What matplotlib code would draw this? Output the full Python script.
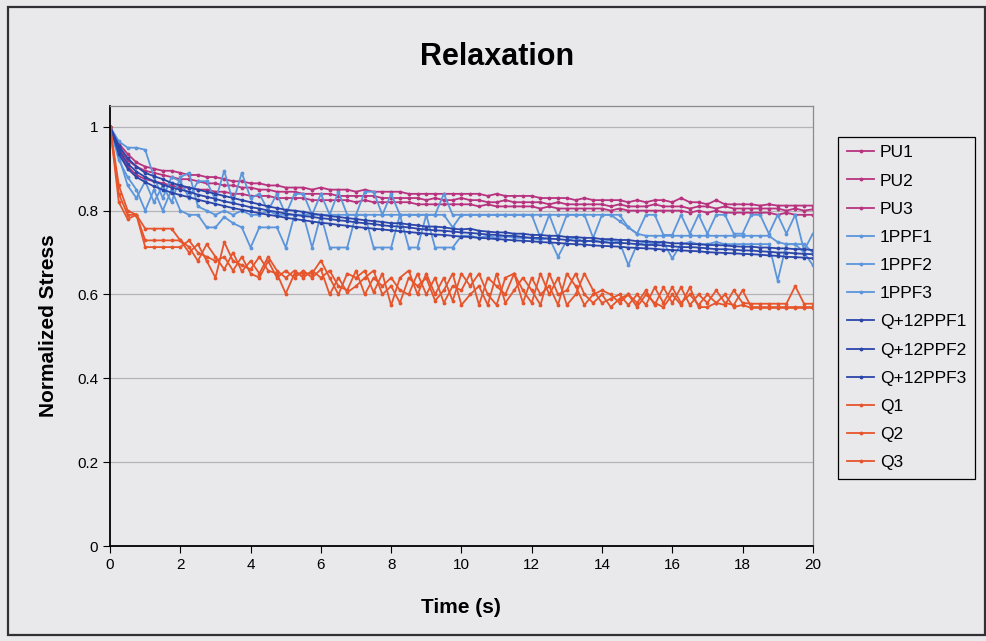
import matplotlib
matplotlib.use("Agg")
import matplotlib.pyplot as plt
from matplotlib.patches import Rectangle

plt.rcParams['font.family'] = ['Liberation Sans', 'DejaVu Sans']

# time axis, one reading every 0.25 s
t = [i * 0.25 for i in range(81)]

# normalized stress (4 readings per second, then t=20)
pu1 = [1.000, 0.960, 0.935, 0.915,  0.905, 0.900, 0.895, 0.895,  0.890, 0.885, 0.885, 0.880,
       0.880, 0.875, 0.870, 0.870,  0.865, 0.865, 0.860, 0.860,  0.855, 0.855, 0.855, 0.850,
       0.855, 0.850, 0.850, 0.850,  0.845, 0.850, 0.845, 0.845,  0.845, 0.845, 0.840, 0.840,
       0.840, 0.840, 0.840, 0.840,  0.840, 0.840, 0.840, 0.835,  0.840, 0.835, 0.835, 0.835,
       0.835, 0.830, 0.830, 0.830,  0.830, 0.825, 0.830, 0.825,  0.825, 0.825, 0.825, 0.820,
       0.825, 0.820, 0.825, 0.825,  0.820, 0.830, 0.820, 0.820,  0.815, 0.825, 0.815, 0.815,
       0.815, 0.815, 0.812, 0.815,  0.812, 0.812, 0.812, 0.812,  0.812]
pu2 = [1.000, 0.950, 0.920, 0.905,  0.895, 0.890, 0.885, 0.880,  0.875, 0.875, 0.870, 0.865,
       0.865, 0.860, 0.860, 0.855,  0.855, 0.850, 0.850, 0.845,  0.845, 0.845, 0.840, 0.840,
       0.840, 0.840, 0.835, 0.835,  0.835, 0.835, 0.835, 0.830,  0.830, 0.830, 0.830, 0.830,
       0.825, 0.830, 0.825, 0.825,  0.830, 0.825, 0.825, 0.820,  0.820, 0.825, 0.820, 0.820,
       0.820, 0.820, 0.815, 0.820,  0.815, 0.815, 0.815, 0.815,  0.815, 0.810, 0.815, 0.810,
       0.810, 0.810, 0.815, 0.810,  0.810, 0.810, 0.805, 0.810,  0.810, 0.805, 0.810, 0.805,
       0.805, 0.805, 0.805, 0.805,  0.805, 0.800, 0.805, 0.800,  0.803]
pu3 = [1.000, 0.940, 0.905, 0.885,  0.875, 0.870, 0.865, 0.860,  0.855, 0.855, 0.850, 0.850,
       0.845, 0.845, 0.840, 0.840,  0.835, 0.835, 0.835, 0.830,  0.830, 0.830, 0.830, 0.825,
       0.825, 0.825, 0.825, 0.825,  0.820, 0.825, 0.820, 0.820,  0.820, 0.820, 0.820, 0.815,
       0.815, 0.815, 0.815, 0.815,  0.815, 0.815, 0.810, 0.815,  0.810, 0.810, 0.810, 0.810,
       0.810, 0.805, 0.810, 0.805,  0.805, 0.805, 0.805, 0.805,  0.805, 0.800, 0.805, 0.800,
       0.800, 0.800, 0.800, 0.800,  0.800, 0.800, 0.795, 0.800,  0.795, 0.800, 0.795, 0.795,
       0.795, 0.795, 0.795, 0.795,  0.790, 0.795, 0.790, 0.790,  0.790]

ppf1 = [1.000, 0.965, 0.950, 0.950,  0.945, 0.880, 0.830, 0.880,  0.870, 0.830, 0.870, 0.870,
        0.825, 0.895, 0.820, 0.890,  0.830, 0.840, 0.800, 0.840,  0.790, 0.840, 0.840, 0.790,
        0.840, 0.790, 0.845, 0.790,  0.790, 0.845, 0.845, 0.790,  0.840, 0.790, 0.790, 0.790,
        0.790, 0.790, 0.840, 0.790,  0.790, 0.790, 0.790, 0.790,  0.790, 0.790, 0.790, 0.790,
        0.790, 0.735, 0.790, 0.735,  0.790, 0.790, 0.790, 0.735,  0.790, 0.790, 0.790, 0.760,
        0.745, 0.790, 0.790, 0.742,  0.742, 0.790, 0.745, 0.790,  0.745, 0.790, 0.790, 0.745,
        0.745, 0.790, 0.790, 0.745,  0.790, 0.745, 0.790, 0.705,  0.745]
ppf2 = [1.000, 0.930, 0.860, 0.830,  0.870, 0.820, 0.860, 0.820,  0.880, 0.890, 0.810, 0.800,
        0.790, 0.800, 0.790, 0.800,  0.790, 0.790, 0.800, 0.790,  0.790, 0.790, 0.790, 0.790,
        0.790, 0.790, 0.790, 0.790,  0.790, 0.790, 0.790, 0.790,  0.790, 0.790, 0.790, 0.790,
        0.790, 0.790, 0.790, 0.760,  0.790, 0.790, 0.790, 0.790,  0.790, 0.790, 0.790, 0.790,
        0.790, 0.790, 0.790, 0.790,  0.790, 0.790, 0.790, 0.790,  0.790, 0.790, 0.775, 0.760,
        0.745, 0.740, 0.740, 0.740,  0.740, 0.740, 0.740, 0.740,  0.740, 0.740, 0.740, 0.740,
        0.740, 0.740, 0.740, 0.740,  0.725, 0.720, 0.720, 0.720,  0.700]
ppf3 = [1.000, 0.920, 0.880, 0.850,  0.800, 0.850, 0.800, 0.850,  0.800, 0.790, 0.790, 0.760,
        0.760, 0.785, 0.770, 0.760,  0.712, 0.760, 0.760, 0.760,  0.712, 0.790, 0.790, 0.712,
        0.790, 0.712, 0.712, 0.712,  0.790, 0.790, 0.712, 0.712,  0.712, 0.790, 0.712, 0.712,
        0.790, 0.712, 0.712, 0.712,  0.740, 0.740, 0.735, 0.740,  0.735, 0.740, 0.735, 0.735,
        0.735, 0.730, 0.735, 0.690,  0.730, 0.735, 0.725, 0.730,  0.725, 0.730, 0.725, 0.670,
        0.720, 0.725, 0.720, 0.725,  0.686, 0.720, 0.725, 0.720,  0.720, 0.725, 0.720, 0.720,
        0.720, 0.720, 0.720, 0.720,  0.633, 0.720, 0.720, 0.700,  0.670]

qp1 = [1.000, 0.955, 0.925, 0.905,  0.890, 0.882, 0.875, 0.866,  0.860, 0.855, 0.850, 0.845,
       0.840, 0.835, 0.830, 0.825,  0.820, 0.815, 0.810, 0.806,  0.802, 0.800, 0.797, 0.793,
       0.790, 0.787, 0.785, 0.782,  0.780, 0.777, 0.775, 0.773,  0.770, 0.770, 0.767, 0.765,
       0.762, 0.762, 0.760, 0.757,  0.755, 0.757, 0.752, 0.750,  0.748, 0.748, 0.745, 0.745,
       0.742, 0.742, 0.740, 0.740,  0.737, 0.737, 0.735, 0.735,  0.732, 0.732, 0.730, 0.730,
       0.727, 0.727, 0.725, 0.725,  0.722, 0.722, 0.720, 0.720,  0.718, 0.718, 0.717, 0.715,
       0.714, 0.714, 0.712, 0.712,  0.710, 0.710, 0.708, 0.708,  0.706]
qp2 = [1.000, 0.945, 0.912, 0.893,  0.880, 0.870, 0.862, 0.855,  0.850, 0.845, 0.838, 0.833,
       0.828, 0.822, 0.818, 0.813,  0.808, 0.805, 0.800, 0.797,  0.793, 0.790, 0.787, 0.785,
       0.782, 0.780, 0.777, 0.775,  0.772, 0.770, 0.768, 0.765,  0.763, 0.762, 0.760, 0.757,
       0.755, 0.753, 0.752, 0.750,  0.748, 0.747, 0.745, 0.743,  0.742, 0.740, 0.740, 0.737,
       0.735, 0.735, 0.733, 0.732,  0.730, 0.728, 0.728, 0.727,  0.725, 0.723, 0.723, 0.722,
       0.720, 0.718, 0.718, 0.717,  0.715, 0.713, 0.713, 0.712,  0.710, 0.708, 0.708, 0.707,
       0.705, 0.705, 0.703, 0.702,  0.700, 0.700, 0.698, 0.697,  0.696]
qp3 = [1.000, 0.935, 0.900, 0.880,  0.868, 0.858, 0.850, 0.843,  0.837, 0.832, 0.826, 0.821,
       0.816, 0.811, 0.806, 0.802,  0.798, 0.794, 0.790, 0.787,  0.783, 0.780, 0.777, 0.774,
       0.771, 0.769, 0.766, 0.764,  0.761, 0.759, 0.757, 0.755,  0.753, 0.751, 0.749, 0.747,
       0.745, 0.743, 0.742, 0.740,  0.738, 0.737, 0.735, 0.734,  0.732, 0.731, 0.729, 0.728,
       0.727, 0.725, 0.724, 0.723,  0.721, 0.720, 0.719, 0.717,  0.716, 0.715, 0.714, 0.712,
       0.711, 0.710, 0.709, 0.707,  0.706, 0.705, 0.704, 0.703,  0.701, 0.700, 0.699, 0.698,
       0.697, 0.696, 0.695, 0.693,  0.692, 0.690, 0.689, 0.688,  0.686]

q1 = [1.000, 0.860, 0.800, 0.790,  0.757, 0.757, 0.757, 0.757,  0.729, 0.700, 0.720, 0.680,
      0.640, 0.725, 0.680, 0.670,  0.660, 0.690, 0.657, 0.650,  0.602, 0.650, 0.650, 0.650,
      0.681, 0.640, 0.600, 0.650,  0.640, 0.657, 0.605, 0.650,  0.574, 0.640, 0.657, 0.600,
      0.650, 0.600, 0.640, 0.585,  0.650, 0.620, 0.650, 0.600,  0.575, 0.640, 0.650, 0.610,
      0.580, 0.650, 0.600, 0.640,  0.575, 0.600, 0.650, 0.610,  0.580, 0.590, 0.600, 0.575,
      0.600, 0.575, 0.617, 0.580,  0.617, 0.580, 0.600, 0.575,  0.600, 0.580, 0.575, 0.610,
      0.580, 0.578, 0.578, 0.578,  0.578, 0.578, 0.620, 0.578,  0.578]
q2 = [1.000, 0.840, 0.790, 0.790,  0.729, 0.729, 0.729, 0.729,  0.729, 0.713, 0.680, 0.720,
      0.690, 0.660, 0.700, 0.655,  0.680, 0.650, 0.690, 0.657,  0.640, 0.657, 0.640, 0.657,
      0.640, 0.657, 0.620, 0.610,  0.657, 0.600, 0.640, 0.620,  0.640, 0.610, 0.600, 0.650,
      0.600, 0.640, 0.580, 0.620,  0.610, 0.650, 0.575, 0.640,  0.620, 0.600, 0.650, 0.580,
      0.640, 0.600, 0.620, 0.575,  0.650, 0.620, 0.575, 0.600,  0.610, 0.600, 0.580, 0.600,
      0.580, 0.610, 0.575, 0.617,  0.580, 0.617, 0.575, 0.600,  0.580, 0.610, 0.580, 0.575,
      0.610, 0.570, 0.570, 0.570,  0.570, 0.570, 0.570, 0.570,  0.570]
q3 = [1.000, 0.820, 0.780, 0.790,  0.713, 0.713, 0.713, 0.713,  0.713, 0.729, 0.700, 0.690,
      0.680, 0.690, 0.657, 0.690,  0.650, 0.640, 0.680, 0.640,  0.657, 0.640, 0.657, 0.640,
      0.660, 0.600, 0.640, 0.605,  0.620, 0.640, 0.657, 0.600,  0.620, 0.580, 0.640, 0.620,
      0.640, 0.585, 0.610, 0.650,  0.575, 0.600, 0.620, 0.575,  0.650, 0.580, 0.610, 0.640,
      0.610, 0.575, 0.650, 0.600,  0.610, 0.650, 0.600, 0.580,  0.600, 0.570, 0.590, 0.600,
      0.570, 0.600, 0.580, 0.570,  0.600, 0.575, 0.617, 0.570,  0.570, 0.580, 0.600, 0.570,
      0.575, 0.568, 0.568, 0.568,  0.568, 0.568, 0.568, 0.568,  0.568]

series = [pu1, pu2, pu3, ppf1, ppf2, ppf3, qp1, qp2, qp3, q1, q2, q3]
labels = ['PU1', 'PU2', 'PU3', '1PPF1', '1PPF2', '1PPF3',
          'Q+12PPF1', 'Q+12PPF2', 'Q+12PPF3', 'Q1', 'Q2', 'Q3']
colours = ['#b8337f'] * 3 + ['#5b95dc'] * 3 + ['#2b46aa'] * 3 + ['#e6552c'] * 3

bg = '#e9e9eb'
fig = plt.figure(figsize=(9.87, 6.41), dpi=100, facecolor=bg)
ax = fig.add_axes([0.1115, 0.148, 0.712, 0.687], facecolor=bg)

for ys, lab, c in zip(series, labels, colours):
    ax.plot(t, ys, color=c, lw=1.3, marker='.', ms=3.5, label=lab)

ax.set_xlim(0, 20)
ax.set_ylim(0, 1.05)
ax.set_xticks(range(0, 21, 2))
ax.set_yticks([0, 0.2, 0.4, 0.6, 0.8, 1])
ax.set_yticklabels(['0', '0.2', '0.4', '0.6', '0.8', '1'])
ax.yaxis.grid(True, color='#b4b4b8', lw=0.9)
ax.set_axisbelow(True)
ax.tick_params(labelsize=11, direction='out', length=5, colors='black')

for s in ['top', 'right']:
    ax.spines[s].set_color('#8a8a90')
    ax.spines[s].set_linewidth(0.9)
for s in ['left', 'bottom']:
    ax.spines[s].set_color('black')
    ax.spines[s].set_linewidth(1.3)

ax.set_xlabel('Time (s)', fontsize=15, fontweight='bold', labelpad=19)
ax.set_ylabel('Normalized Stress', fontsize=15, fontweight='bold', labelpad=14)
fig.text(0.504, 0.911, 'Relaxation', fontsize=22, fontweight='bold',
         ha='center', va='center')

leg = ax.legend(loc='upper left', bbox_to_anchor=(0.849, 0.787),
                bbox_transform=fig.transFigure, fontsize=12.5, frameon=True,
                fancybox=False, edgecolor='black', facecolor=bg, framealpha=1,
                handlelength=1.6, handletextpad=0.3, labelspacing=0.75,
                borderpad=0.5, numpoints=1, borderaxespad=0)
leg.get_frame().set_linewidth(0.9)

fig.patches.append(Rectangle((0.008, 0.009), 0.99, 0.98, transform=fig.transFigure,
                             fill=False, edgecolor='#303036', lw=1.6))

fig.savefig('out.png', dpi=100, facecolor=bg)
